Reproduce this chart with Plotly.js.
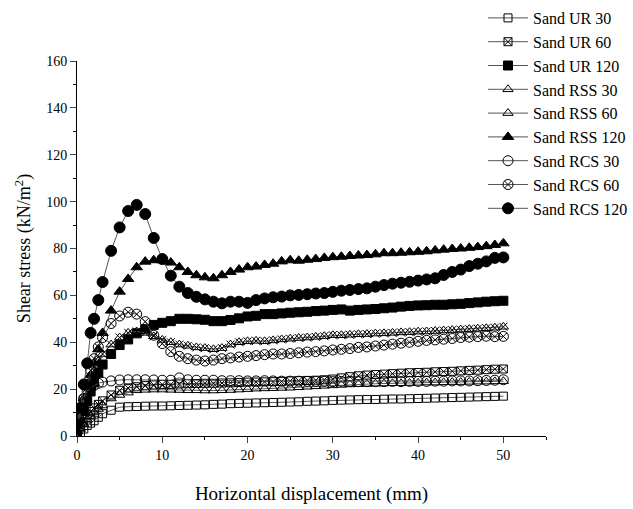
<!DOCTYPE html>
<html>
<head>
<meta charset="utf-8">
<script src="https://cdn.plot.ly/plotly-3.0.1.min.js"></script>
<style>html,body{margin:0;padding:0;background:#fff;}#chart{width:633px;height:509px;}</style>
</head>
<body>
<div id="chart"></div>
<script>
const disp = [0,0.4,0.8,1.2,1.6,2,2.5,3,4,5,6,7,8,9,10,11,12,13,14,15,16,17,18,19,20,21,22,23,24,25,26,27,28,29,30,31,32,33,34,35,36,37,38,39,40,41,42,43,44,45,46,47,48,49,50];

const urUR30 = [0,1.5,3,4.5,5.5,6.5,8,9.5,11,12.3,12.5,12.6,12.7,12.8,12.8,12.9,13,13.1,13.2,13.3,13.5,13.6,13.8,13.9,14,14.1,14.2,14.3,14.4,14.5,14.6,14.8,14.9,15,15.2,15.3,15.4,15.5,15.6,15.6,15.7,15.8,15.8,15.9,16,16.1,16.2,16.3,16.4,16.5,16.6,16.7,16.8,16.9,17];
const urUR60 = [1,4,7,9,10.5,12,13.5,15,17.5,19.5,20.5,21,21.5,21.8,22,22,22.2,22.3,22.4,22.5,22.5,22.6,22.7,22.8,23,23,23.1,23.2,23.3,23.5,23.6,23.7,23.8,24,24.3,24.8,25.3,25.7,26,26.2,26.4,26.6,26.8,27,27.1,27.2,27.4,27.5,27.6,27.8,28,28.1,28.3,28.5,28.6];
const urUR120 = [0,6,11,15,19,23,27,30.5,35,38.8,41.2,43.8,45.6,47.4,48.3,49,50,50,49.8,49.6,49,49,49.5,50.2,51,51.3,52,52,52.3,52.6,52.8,53,53.3,53.5,53.8,54,53.5,53.8,54,54.2,54.5,54.8,55.2,55.5,55.7,55.8,56,56,56.2,56.4,56.7,57,57.3,57.5,57.7];
const rss30 = [0,3,5,7,8.5,10,11.5,13,16,17.5,18.5,19.5,19.7,19.8,19.8,19.7,19.6,19.5,19.5,19.4,19.4,19.5,19.6,19.8,20,20.2,20.3,20.4,20.5,20.6,20.8,21,21.2,21.4,21.6,21.8,22,22.1,22.2,22.3,22.4,22.5,22.5,22.6,22.7,22.8,22.8,22.9,23,23,23.1,23.2,23.2,23.3,23.4];
const rss60 = [2,8,14,19,24,28,32,35,39,42,44,44.6,44,42.5,41,40,39,38.5,37.8,37.5,37,37.5,39,40,40.4,40.6,40.4,40.8,41.2,41.5,41.8,42,42.3,42.6,43,43,43.2,43.4,43.5,43.7,43.8,44,44.2,44.3,44.5,44.6,44.8,45,45.2,45.4,45.6,45.8,46,46.2,46.6];
const rss120 = [2,10,16,21,26,31,37,44,53.5,61.6,67,72,74.4,75,75,74,72,70,68.6,67.7,67.3,68.6,70,71,72,72.3,73,73.5,74.5,75,74.8,75.2,75.5,76,76.3,76.5,76.8,77,77.2,77.5,78,78,78.2,78.4,78.6,78.8,79.2,79.5,79.8,80,80.3,80.6,81,81.5,82.2];
const rcs30 = [6,11,16,19,20.5,21.5,22.5,23,23.5,23.9,24,24,24,23.9,23.8,23.8,24.8,24,23.8,23.8,23.8,23.6,23.6,23.6,23.5,23.5,23.6,23.5,23.4,23.4,23.4,23.3,23.3,23.3,23.2,23.3,23.3,23.2,23.2,23.2,23.2,23.3,23.2,23.3,23.3,23.3,23.4,23.4,23.5,23.5,23.5,23.6,23.7,23.8,24];
const rcs60 = [3,10,16,22,28,33,38,42,48,51.2,52.8,52,48.8,43,39.4,36,34,33,32.4,32,32.4,33,33.3,33.7,34,34.3,34.7,35,35,35.2,35.5,35.8,36,36.3,36.7,37,37.3,37.8,38,38.4,38.8,39.2,39.6,40,40.4,40.8,41,41.3,41.6,42,42.2,42.4,42.6,42.4,42.5];
const rcs120 = [5,12,22,31,44,50,58,65.7,79,89,96,98.6,94.7,84.5,75.5,68.4,63.7,61,59.4,58.3,57.3,56.6,57.3,57.3,56.8,58,58.7,59.2,59.5,60,60.2,60.5,60.8,61,61.5,62,62.3,62.7,63,63.7,64.4,65,65.4,65.8,66.3,66.8,67.3,68.7,70,71,72.5,73.5,74.5,76,76.2];

const names = ["Sand UR 30","Sand UR 60","Sand UR 120","Sand RSS 30","Sand RSS 60","Sand RSS 120","Sand RCS 30","Sand RCS 60","Sand RCS 120"];
const series = [urUR30,urUR60,urUR120,rss30,rss60,rss120,rcs30,rcs60,rcs120];
const symbols = ["square-open","square-x-open","square","triangle-up-open","triangle-up-open","triangle-up","circle-open","circle-x-open","circle"];
const sizes = [8,8,9,9,9,10,10,10,11];

const traces = [];
series.forEach((ys, i) => {
  traces.push({
    x: disp, y: ys, name: names[i], type: "scatter", mode: "lines+markers",
    legendgroup: "g" + i,
    line: {color: "#555", width: 1},
    marker: {symbol: symbols[i], size: sizes[i], color: "#000", line: {color: "#000", width: 1}}
  });
  if (i === 4) {
    traces.push({
      x: disp, y: ys, name: names[i], type: "scatter", mode: "markers",
      legendgroup: "g" + i, showlegend: false,
      marker: {symbol: "x-thin-open", size: 8, color: "#000", line: {color: "#000", width: 1}}
    });
  }
});

const layout = {
  width: 633, height: 509,
  margin: {l: 77, r: 87, t: 61, b: 73, autoexpand: false},
  paper_bgcolor: "#fff", plot_bgcolor: "#fff",
  font: {family: "Liberation Serif, serif", color: "#000", size: 14},
  showlegend: true,
  legend: {
    x: (483 - 77) / 469, xanchor: "left", y: 1 + 60 / 375, yanchor: "top",
    bgcolor: "rgba(255,255,255,0)", font: {size: 16, family: "Liberation Serif, serif"},
    tracegroupgap: 0, itemwidth: 40, tracegroupgap: 0
  },
  xaxis: {
    range: [0, 55], tickvals: [0,10,20,30,40,50], ticks: "outside", ticklen: 6, tickwidth: 1,
    showline: true, linecolor: "#000", linewidth: 1, showgrid: false, zeroline: false,
    minor: {dtick: 5, ticks: "outside", ticklen: 3, tickcolor: "#000", showgrid: false},
    tickfont: {size: 14},
    title: {text: "Horizontal displacement (mm)", font: {size: 19}, standoff: 24}
  },
  yaxis: {
    range: [0, 160], dtick: 20, ticks: "outside", ticklen: 6, tickwidth: 1,
    showline: true, linecolor: "#000", linewidth: 1, showgrid: false, zeroline: false,
    minor: {dtick: 10, ticks: "outside", ticklen: 3, tickcolor: "#000", showgrid: false},
    tickfont: {size: 14},
    title: {text: "Shear stress (kN/m<sup>2</sup>)", font: {size: 18}, standoff: 10}
  }
};

Plotly.newPlot("chart", traces, layout, {displayModeBar: false, staticPlot: true});
</script>
</body>
</html>
